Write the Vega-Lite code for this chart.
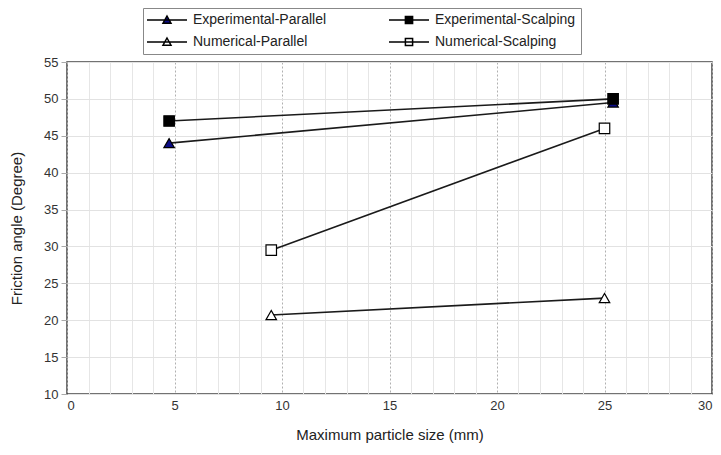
{
  "$schema": "https://vega.github.io/schema/vega-lite/v6.json",
  "width": 645,
  "height": 332,
  "autosize": "none",
  "padding": {"left": 67, "top": 62, "right": 9, "bottom": 61},
  "background": "white",
  "config": {
    "font": "Liberation Sans",
    "view": {"stroke": "#444", "strokeWidth": 1.5}
  },
  "data": {
    "values": [
      {"series": "Experimental-Parallel", "size": 4.75, "angle": 44},
      {"series": "Experimental-Parallel", "size": 25.4, "angle": 49.5},
      {"series": "Experimental-Scalping", "size": 4.75, "angle": 47},
      {"series": "Experimental-Scalping", "size": 25.4, "angle": 50},
      {"series": "Numerical-Parallel", "size": 9.5, "angle": 20.7},
      {"series": "Numerical-Parallel", "size": 25, "angle": 23},
      {"series": "Numerical-Scalping", "size": 9.5, "angle": 29.5},
      {"series": "Numerical-Scalping", "size": 25, "angle": 46}
    ]
  },
  "encoding": {
    "x": {
      "field": "size", "type": "quantitative",
      "scale": {"domain": [0, 30], "nice": false},
      "axis": {
        "title": "Maximum particle size (mm)",
        "titleFontSize": 15, "titleFontWeight": "normal", "titleColor": "#222", "titlePadding": 15,
        "values": [0,1,2,3,4,5,6,7,8,9,10,11,12,13,14,15,16,17,18,19,20,21,22,23,24,25,26,27,28,29,30],
        "labelExpr": "datum.value % 5 === 0 ? datum.label : ''",
        "labelFontSize": 13, "labelColor": "#333", "labelPadding": 5,
        "ticks": false, "domain": false,
        "grid": true,
        "gridColor": {"condition": {"test": "datum.value % 5 === 0", "value": "#b0b0b0"}, "value": "#e6e6e6"},
        "gridDash": {"condition": {"test": "datum.value % 5 === 0", "value": [2, 2]}, "value": []},
        "gridWidth": 1
      }
    },
    "y": {
      "field": "angle", "type": "quantitative",
      "scale": {"domain": [10, 55], "nice": false, "zero": false},
      "axis": {
        "title": "Friction angle (Degree)",
        "titleFontSize": 15, "titleFontWeight": "normal", "titleColor": "#222", "titlePadding": 19,
        "values": [10, 15, 20, 25, 30, 35, 40, 45, 50, 55],
        "labelFontSize": 13, "labelColor": "#333", "labelPadding": 3,
        "tickSize": 6, "tickColor": "#aaa", "domain": false,
        "grid": true, "gridColor": "#e2e2e2"
      }
    }
  },
  "layer": [
    {
      "mark": {"type": "line", "stroke": "#1a1a1a", "strokeWidth": 1.6},
      "encoding": {"detail": {"field": "series"}}
    },
    {
      "mark": {"type": "point", "filled": true, "stroke": "#000", "strokeWidth": 1.2, "size": 110, "opacity": 1},
      "encoding": {
        "shape": {
          "field": "series",
          "scale": {"domain": ["Experimental-Parallel", "Numerical-Parallel", "Experimental-Scalping", "Numerical-Scalping"], "range": ["triangle-up", "triangle-up", "square", "square"]},
          "legend": null
        },
        "fill": {
          "field": "series",
          "scale": {"domain": ["Experimental-Parallel", "Numerical-Parallel", "Experimental-Scalping", "Numerical-Scalping"], "range": ["#0b0b85", "#ffffff", "#000000", "#ffffff"]},
          "legend": null
        }
      }
    },
    {
      "transform": [{"filter": "false"}],
      "mark": {"type": "point", "filled": true, "stroke": "#000", "strokeWidth": 1.1, "opacity": 1},
      "encoding": {
        "shape": {
          "field": "series",
          "scale": {"domain": ["Experimental-Parallel", "Numerical-Parallel", "Experimental-Scalping", "Numerical-Scalping"], "range": ["M-5,0H5M0,-1L1,0.8L-1,0.8Z", "M-5,0H5M0,-1L1,0.8L-1,0.8Z", "M-5,0H5M-0.9,-0.9H0.9V0.9H-0.9Z", "M-5,0H5M-0.9,-0.9H0.9V0.9H-0.9Z"]},
          "legend": {
            "title": null, "orient": "none", "legendX": 76, "legendY": -54,
            "columns": 2, "columnPadding": 59, "rowPadding": 8,
            "symbolSize": 64, "symbolOffset": 12, "labelOffset": 19,
            "labelFontSize": 14, "labelColor": "#222",
            "strokeColor": "#888", "padding": 5, "fillColor": "white"
          }
        },
        "fill": {
          "field": "series",
          "scale": {"domain": ["Experimental-Parallel", "Numerical-Parallel", "Experimental-Scalping", "Numerical-Scalping"], "range": ["#0b0b85", "#ffffff", "#000000", "#ffffff"]},
          "legend": {
            "title": null, "orient": "none", "legendX": 76, "legendY": -54,
            "columns": 2, "columnPadding": 59, "rowPadding": 8,
            "symbolSize": 64, "symbolOffset": 12, "labelOffset": 19,
            "labelFontSize": 14, "labelColor": "#222",
            "strokeColor": "#888", "padding": 5, "fillColor": "white"
          }
        }
      }
    }
  ],
  "resolve": {"scale": {"shape": "independent", "fill": "independent"}, "legend": {"shape": "independent", "fill": "independent"}}
}
